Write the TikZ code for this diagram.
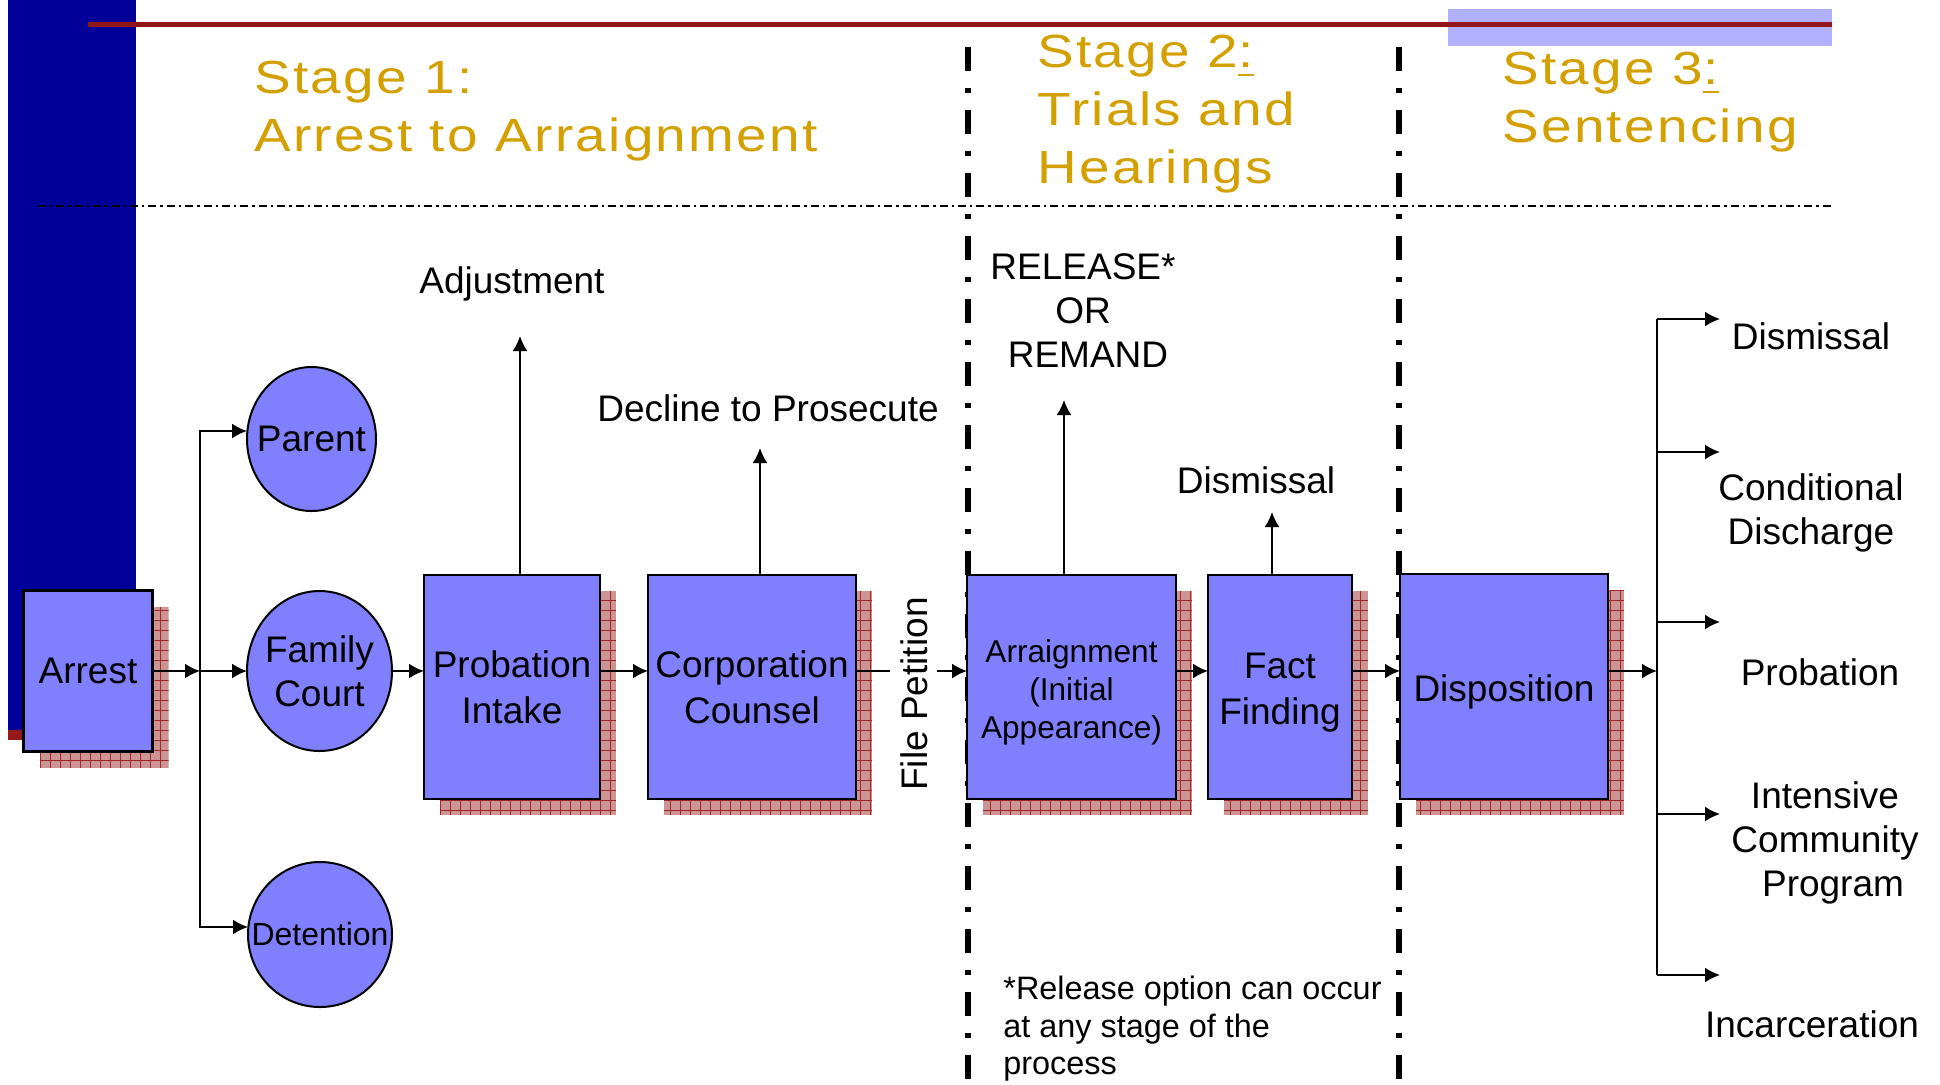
\documentclass[tikz,border=0pt]{standalone}
\usepackage{fontspec}
\setmainfont{Liberation Sans}
\newfontfamily\goldfont[FakeStretch=1.18,LetterSpace=5]{Liberation Sans}
\usetikzlibrary{arrows.meta,shapes.geometric}
\pgfdeclarelayer{back}
\pgfdeclarelayer{shade}
\pgfsetlayers{back,shade,main}
\definecolor{boxblue}{RGB}{128,128,255}
\definecolor{barblue}{RGB}{0,0,153}
\definecolor{stripred}{RGB}{150,25,25}
\definecolor{topred}{RGB}{145,22,26}
\definecolor{lightrect}{RGB}{176,176,255}
\definecolor{gold}{RGB}{212,160,0}
\definecolor{shadowfill}{RGB}{205,148,148}
\definecolor{shadowgrid}{RGB}{160,40,40}
\newcommand\ucol{\rlap{\rule[-4pt]{8pt}{1pt}}:}
\newcommand\boxshadow[1]{%
  \begin{scope}
    \path[clip] ([shift={(16,16)}]#1.south west) rectangle ([shift={(16,16)}]#1.north east);
    \fill[shadowfill] ([shift={(16,16)}]#1.south west) rectangle ([shift={(16,16)}]#1.north east);
    \draw[shadowgrid, line width=0.4pt, step=5pt] ([shift={(16,16)}]#1.south west) grid ([shift={(16,16)}]#1.north east);
  \end{scope}}
\begin{document}
\begin{tikzpicture}[x=0.5pt,y=-0.5pt,
  box/.style={rectangle, draw=black, line width=1.25pt, fill=boxblue, inner sep=1pt, outer sep=0pt, align=center, font=\fontsize{18.5pt}{23pt}\selectfont},
  oval/.style={ellipse, draw=black, line width=1pt, fill=boxblue, inner sep=0pt, outer sep=0pt},
  lbl/.style={inner sep=0pt, align=center, font=\fontsize{18.5pt}{22pt}\selectfont},
  conn/.style={line width=1pt, draw=black},
  arr/.style={conn, -{Latex[length=7.5pt,width=7.5pt]}},
  stagetitle/.style={anchor=north west, inner sep=0pt, align=left, text=gold, font=\goldfont\fontsize{23.25pt}{29pt}\selectfont},
  vdash/.style={line width=3pt, dash pattern=on 12pt off 8.5pt on 2.5pt off 8.5pt},
  hdash/.style={line width=1pt, dash pattern=on 4pt off 2pt on 1.2pt off 2pt}]
\useasboundingbox (0,0) rectangle (1940,1084);

% nodes
\node[box, minimum width=64.5pt, minimum height=80.5pt] (arrest) at (88,671) {Arrest};
\node[oval, minimum width=64.5pt, minimum height=72pt, label={[lbl]center:Parent}] (parent) at (311.5,439) {};
\node[oval, minimum width=72.5pt, minimum height=80pt, label={[lbl]center:Family\\Court}] (family) at (319.5,671) {};
\node[oval, minimum width=72pt, minimum height=72.5pt, label={[lbl,font=\fontsize{16pt}{19pt}\selectfont]center:Detention}] (detention) at (320,934.5) {};
\node[box, minimum width=88pt, minimum height=112pt] (intake) at (512,687) {Probation\\Intake};
\node[box, minimum width=104pt, minimum height=112pt] (counsel) at (752,687) {Corporation\\Counsel};
\node[box, minimum width=104.5pt, minimum height=112pt, label={[lbl, yshift=-2.5pt, font=\fontsize{15.8pt}{19pt}\selectfont]center:Arraignment\\(Initial\\Appearance)}] (arraign) at (1071.5,687) {};
\node[box, minimum width=72pt, minimum height=112pt, label={[lbl, yshift=-3pt, font=\fontsize{18.5pt}{23pt}\selectfont]center:Fact\\Finding}] (fact) at (1280,687) {};
\node[box, minimum width=104pt, minimum height=112.5pt, text height=18.5pt, text depth=3.9pt] (dispo) at (1504,686.5) {Disposition};

% background decorations
\begin{pgfonlayer}{back}
  \fill[white] (0,0) rectangle (1940,1084);
  \fill[barblue] (8,0) rectangle (136,730);
  \fill[stripred] (8,730) rectangle (136,740);
  \fill[lightrect] (1448,9) rectangle (1832,46);
  \draw[topred, line width=2.2pt] (88,24.5) -- (1832,24.5);
  \draw[hdash] (38,206) -- (1832,206);
  \draw[vdash] (967.5,47) -- (967.5,1084);
  \draw[vdash] (1399,47) -- (1399,1084);
\end{pgfonlayer}

% shadows
\begin{pgfonlayer}{shade}
  \foreach \b in {arrest,intake,counsel,arraign,fact,dispo} {\boxshadow{\b}}
\end{pgfonlayer}

% coordinates
\coordinate (split) at (200,671);
\coordinate (fan) at (1657,671);
\coordinate (adjtip) at (520,336);
\coordinate (dectip) at (760,448);
\coordinate (reltip) at (1064,400);
\coordinate (distip) at (1272,512);
\coordinate (o1) at (1720,319);
\coordinate (o2) at (1720,452);
\coordinate (o3) at (1720,622);
\coordinate (o4) at (1720,814);
\coordinate (o5) at (1720,975);

% connectors
\draw[arr] (arrest.east |- split) -- (split);
\draw[arr] (split) |- ([yshift=4pt]parent.west);
\draw[arr] (split) |- ([yshift=3.75pt]detention.west);
\draw[arr] (split) -- (family.west);
\draw[arr] (family.east) -- (family.east -| intake.west);
\draw[arr] (intake.east |- split) -- (counsel.west |- split);
\draw[arr] (counsel.east |- split) -- (arraign.west |- split);
\draw[arr] (arraign.east |- split) -- (fact.west |- split);
\draw[arr] (fact.east |- split) -- (dispo.west |- split);
\draw[arr] (dispo.east |- split) -- (fan);
\draw[arr] (intake.north -| adjtip) -- (adjtip);
\draw[arr] (counsel.north -| dectip) -- (dectip);
\draw[arr] (arraign.north -| reltip) -- (reltip);
\draw[arr] (fact.north -| distip) -- (distip);
\draw[conn] (fan |- o1) -- (fan |- o5);
\foreach \o in {o1,o2,o3,o4,o5} {\draw[arr] (fan |- \o) -- (\o);}

% labels
\node[lbl, anchor=base] (adj) at (512,293) {Adjustment};
\node[lbl, anchor=base] (decl) at (768,421) {Decline to Prosecute};
\node[lbl, anchor=north] (rel) at (1083,253) {RELEASE*\\OR\\\hspace{5pt}REMAND};
\node[lbl, anchor=base] (dis2) at (1256,493) {Dismissal};
\node[lbl, anchor=base, rotate=90, fill=white, inner sep=5pt] (file) at (927,694) {File Petition};
\node[lbl, anchor=base] (out1) at (1811,349) {Dismissal};
\node[lbl, anchor=north] (out2) at (1811,473) {Conditional\\Discharge};
\node[lbl, anchor=base] (out3) at (1820,685) {Probation};
\node[lbl, anchor=north] (out4) at (1825,781) {Intensive\\Community\\\hspace{8pt}Program};
\node[lbl, anchor=base] (out5) at (1812,1037) {Incarceration};
\node[anchor=north west, inner sep=0pt, align=left, font=\fontsize{16.2pt}{18.75pt}\selectfont] (note) at (1003,976) {*Release option can occur\\at any stage of the\\process};

% stage titles
\node[stagetitle] (s1) at (254,61) {Stage 1:\\Arrest to Arraignment};
\node[stagetitle] (s2) at (1037,35) {Stage 2\ucol\\Trials and\\Hearings};
\node[stagetitle] (s3) at (1502,52) {Stage 3\ucol\\Sentencing};
\end{tikzpicture}
\end{document}
